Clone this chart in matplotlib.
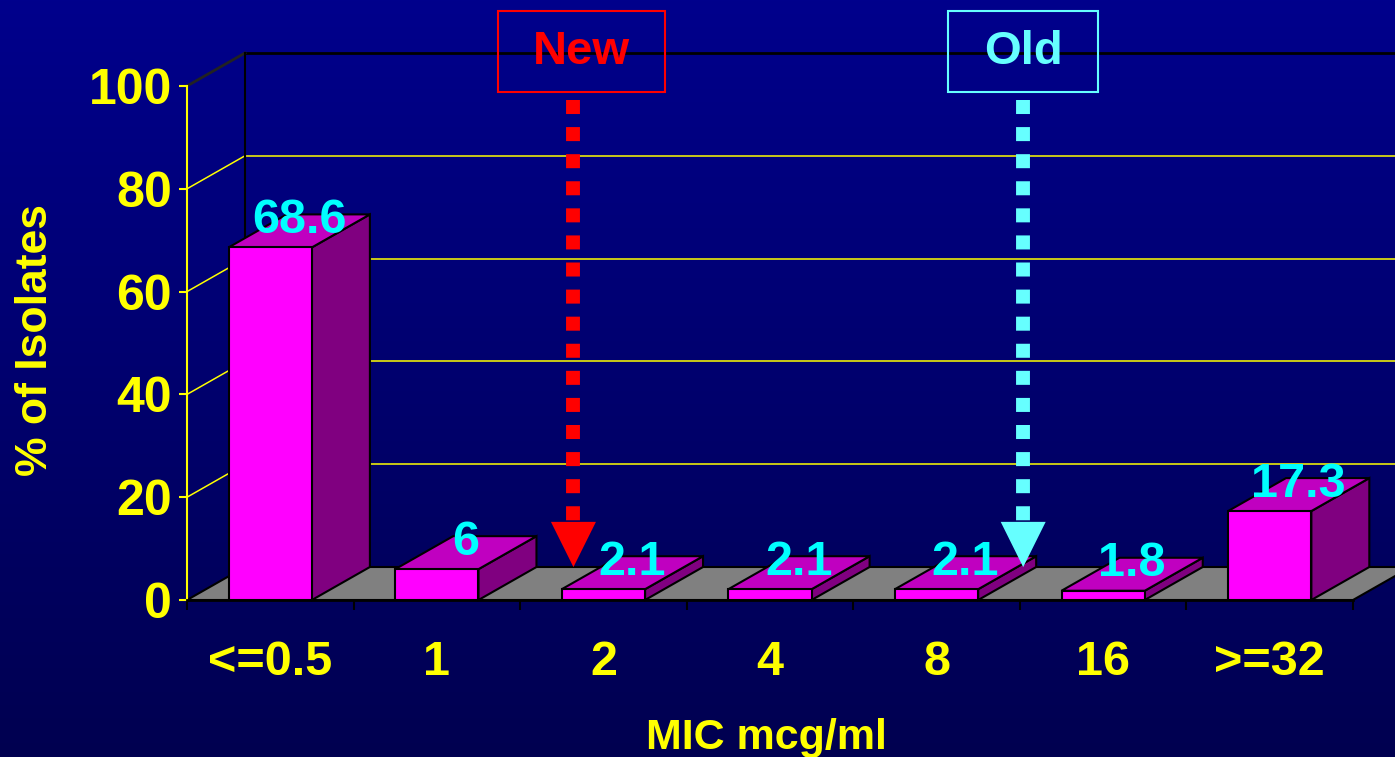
import numpy as np
import matplotlib.pyplot as plt
from matplotlib.patches import Polygon, Rectangle

plt.rcParams['font.family'] = ['Liberation Sans', 'DejaVu Sans']
plt.rcParams['font.weight'] = 'bold'
plt.rcParams['lines.scale_dashes'] = False

categories = ['<=0.5', '1', '2', '4', '8', '16', '>=32']
pct_isolates = [68.6, 6, 2.1, 2.1, 2.1, 1.8, 17.3]
y_ticks = [0, 20, 40, 60, 80, 100]

# breakpoint markers (x in category units)
breakpoints = [('New', 1.82, '#FF0000', 1.0), ('Old', 4.52, '#66FFFF', 0.9)]

# 3-D depth offset of the box, in data units
DX, DY = 0.348, 6.42
BAR_W = 0.5

fig = plt.figure(figsize=(13.95, 7.57), dpi=100)

# dark blue gradient background
bg = fig.add_axes([0, 0, 1, 1], zorder=-1)
grad = np.linspace(0, 1, 256)[:, None]
top = np.array([0, 0, 0x8C]) / 255
bottom = np.array([0, 0, 0x50]) / 255
img = top + (bottom - top) * grad[..., None]
bg.imshow(np.repeat(img, 2, axis=1), aspect='auto', extent=[0, 1, 0, 1])
bg.axis('off')

ax = fig.add_axes([187 / 1395, 157 / 757, 1166 / 1395, 514 / 757])
ax.set_facecolor('none')
ax.set_xlim(-0.5, len(categories) - 0.5)
ax.set_ylim(0, 100)

x0, x1 = -0.5, len(categories) - 0.5

# walls: gridlines on the back wall and left side wall
for v in y_ticks[1:-1]:
    ax.plot([x0 + DX, x1 + DX], [v + DY, v + DY], color='#FFFF00', lw=1.1, clip_on=False, zorder=0.5)
    ax.plot([x0, x0 + DX], [v, v + DY], color='#FFFF00', lw=1.1, clip_on=False, zorder=0.5)
ax.plot([x0 + DX, x1 + DX], [100 + DY, 100 + DY], color='black', lw=2, clip_on=False, zorder=0.6)
ax.plot([x0, x0 + DX], [100, 100 + DY], color='#222222', lw=2, clip_on=False, zorder=0.6)
ax.plot([x0 + DX, x0 + DX], [DY, 100 + DY], color='black', lw=1.5, clip_on=False, zorder=0.6)

# floor
floor = Polygon([(x0, 0), (x1, 0), (x1 + DX, DY), (x0 + DX, DY)], closed=True,
                facecolor='#808080', edgecolor='black', lw=1.5, clip_on=False, zorder=1)
ax.add_patch(floor)

# 3-D bars
for i, v in enumerate(pct_isolates):
    l, r = i - BAR_W / 2, i + BAR_W / 2
    front = Rectangle((l, 0), BAR_W, v, facecolor='#FF00FF', edgecolor='black', lw=1.5,
                      clip_on=False, zorder=3)
    top_face = Polygon([(l, v), (r, v), (r + DX, v + DY), (l + DX, v + DY)],
                       facecolor='#C000C0', edgecolor='black', lw=1.5, clip_on=False, zorder=3)
    side = Polygon([(r, 0), (r + DX, DY), (r + DX, v + DY), (r, v)],
                   facecolor='#800080', edgecolor='black', lw=1.5, clip_on=False, zorder=3)
    ax.add_patch(side)
    ax.add_patch(top_face)
    ax.add_patch(front)
    ax.text(i + DX / 2, v + DY - 1.2, f'{v:g}', color='#00FFFF', fontsize=35, fontweight='bold',
            ha='center', va='center', zorder=5, clip_on=False)

# breakpoint boxes and dotted arrows
for label, bx, col, box_w in breakpoints:
    ax.plot([bx, bx], [97.3, 15.4], color=col, lw=10, dashes=(10.1, 9.4),
            solid_capstyle='butt', dash_capstyle='butt', clip_on=False, zorder=6)
    ax.add_patch(Polygon([(bx - 0.135, 15.2), (bx + 0.135, 15.2), (bx, 6.4)], closed=True,
                         facecolor=col, edgecolor='none', clip_on=False, zorder=6))
    bcx = bx + (0.05 if label == 'New' else 0.0)
    ax.add_patch(Rectangle((bcx - box_w / 2, 98.8), box_w, 15.8, facecolor='none',
                           edgecolor=col, lw=1.5, clip_on=False, zorder=6))
    ax.text(bcx, 106.7, label, color=col, fontsize=34, fontweight='bold',
            ha='center', va='center', clip_on=False, zorder=6)

# axes styling
for s in ['top', 'right']:
    ax.spines[s].set_visible(False)
ax.spines['left'].set_color('#FFFF00')
ax.spines['left'].set_linewidth(1.5)
ax.spines['bottom'].set_color('black')
ax.spines['bottom'].set_linewidth(2)
ax.spines['bottom'].set_zorder(4)

ax.set_yticks(y_ticks)
ax.set_yticklabels([str(t) for t in y_ticks])
ax.tick_params(axis='y', colors='#FFFF00', length=6, width=1.5, pad=5, labelsize=36)

ax.set_xticks(range(len(categories)))
ax.set_xticklabels(categories)
ax.set_xticks(np.arange(x0, x1 + 0.01, 1), minor=True)
ax.tick_params(axis='x', which='major', length=0, pad=29, labelsize=35, labelcolor='#FFFF00')
ax.tick_params(axis='x', which='minor', length=7, width=1.5, color='black')

ax.set_ylabel('% of Isolates', color='#FFFF00', fontsize=32, fontweight='bold')
ax.yaxis.set_label_coords(-0.130, 0.506)
ax.yaxis.label.set_va('center')
ax.set_xlabel('MIC mcg/ml', color='#FFFF00', fontsize=31, fontweight='bold')
ax.xaxis.set_label_coords(0.497, -0.268)
ax.xaxis.label.set_va('center')

fig.savefig('out.png', dpi=100)
